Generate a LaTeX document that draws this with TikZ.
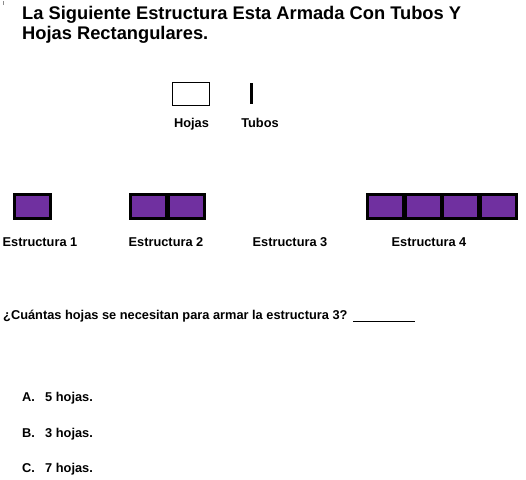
\documentclass[tikz,border=0pt]{standalone}
\usepackage{fontspec}
\setmainfont{Liberation Sans}
\usetikzlibrary{positioning}
\definecolor{hojapurple}{HTML}{7030A0}
\definecolor{tickgrey}{gray}{0.55}
\newcommand{\ttlfont}{\fontsize{18.3}{20}\selectfont\bfseries}
\newcommand{\txtfont}{\fontsize{12.8}{14}\selectfont\bfseries}
\tikzset{
  hojasheet/.style={x=1pt, y=-1pt, font=\txtfont},
  % the title lines
  ttl/.style={font=\ttlfont, anchor=base west, inner sep=0pt},
  % ordinary text, set on its baseline
  txt/.style={font=\txtfont, anchor=base west, inner sep=0pt},
  % a label centred under something
  ctxt/.style={font=\txtfont, anchor=base, inner sep=0pt},
  % the empty sheet of the legend
  hojaleg/.style={draw=black, line width=0.9pt, rectangle,
                  minimum width=37pt, minimum height=23pt, inner sep=0pt},
  % a tube of the legend
  tubo/.style={draw=black, line width=2.5pt},
  % one sheet of a structure, tubes round it
  celda/.style={draw=black, fill=hojapurple, line width=3pt, rectangle,
                minimum width=36pt, minimum height=24pt, inner sep=0pt},
}
% a structure: name, x of its first sheet, number of sheets
\newcommand{\estr}[3]{%
  \foreach \i in {1,...,#3} {%
    \node[celda] (#1-\i) at ({#2+(\i-1)*37.5},206.5) {};%
  }%
}

\begin{document}
\begin{tikzpicture}[hojasheet]
  \useasboundingbox (0,0) rectangle (526,479);
  \draw[tickgrey, line width=0.8pt] (3.5,1) -- (3.5,5);

  % title
  \node[ttl] (titulo1) at (22,19) {La Siguiente Estructura Esta Armada Con Tubos Y};
  \node[ttl] (titulo2) at (22,39) {Hojas Rectangulares.};

  % legend: a sheet and a tube
  \node[hojaleg] (hoja) at (191,94) {};
  \coordinate (tubo-a) at (251.5,83);
  \coordinate (tubo-b) at (251.5,104);
  \draw[tubo] (tubo-a) -- (tubo-b);
  \node[ctxt] (lhoja) at (191.5,127.5) {Hojas};
  \node[ctxt] (ltubo) at (260,127.5) {Tubos};

  % the structures (number 3 is left out)
  \estr{e1}{32.2}{1}
  \estr{e2}{148.5}{2}
  \estr{e4}{385.5}{4}
  \node[ctxt] (le1) at (40,246) {Estructura 1};
  \node[ctxt] (le2) at (166,246) {Estructura 2};
  \node[ctxt] (le3) at (290,246) {Estructura 3};
  \node[ctxt] (le4) at (429,246) {Estructura 4};

  % question and its blank
  \node[txt] (preg) at (3,319) {¿Cuántas hojas se necesitan para armar la estructura 3?};
  \coordinate (blank-a) at (353,321);
  \coordinate (blank-b) at (415,321);
  \draw[line width=0.9pt] (blank-a) -- (blank-b);

  % the options
  \foreach \l/\t/\y in {A/5/401, B/3/437.5, C/7/472.5} {
    \node[txt] (op\l) at (22,\y) {\l.};
    \node[txt] (op\l-t) at (45,\y) {\t\ hojas.};
  }
\end{tikzpicture}
\end{document}
